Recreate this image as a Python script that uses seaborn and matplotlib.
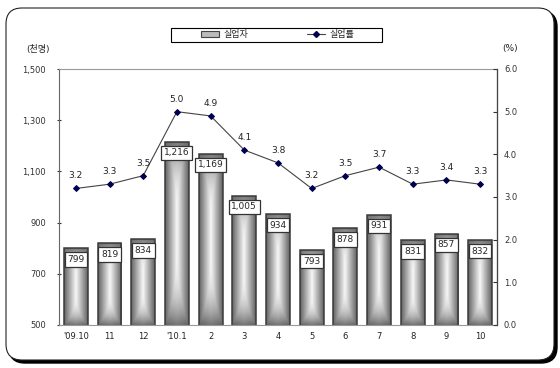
import numpy as np
import pandas as pd
import matplotlib
matplotlib.use("Agg")
import matplotlib.pyplot as plt
import seaborn as sns
from matplotlib.patches import FancyBboxPatch, Patch, Rectangle
from matplotlib.lines import Line2D

months = ["'09.10", "11", "12", "'10.1", "2", "3", "4", "5", "6", "7", "8", "9", "10"]
unemployed = [799, 819, 834, 1216, 1169, 1005, 934, 793, 878, 931, 831, 857, 832]
rate = [3.2, 3.3, 3.5, 5.0, 4.9, 4.1, 3.8, 3.2, 3.5, 3.7, 3.3, 3.4, 3.3]

sns.set_style("white")
plt.rcParams['font.family'] = ['DejaVu Sans', 'Noto Sans CJK KR']
plt.rcParams['axes.unicode_minus'] = False

W, H = 560, 368
fig = plt.figure(figsize=(W / 100, H / 100), dpi=100)

# outer rounded frame with shadow, and the legend box
bg = fig.add_axes([0, 0, 1, 1], zorder=-1)
bg.set_xlim(0, W)
bg.set_ylim(H, 0)
bg.axis("off")
bg.add_patch(FancyBboxPatch((9, 11), 548, 352, boxstyle="round,pad=0,rounding_size=16",
                            facecolor="black", edgecolor="black", lw=1))
bg.add_patch(FancyBboxPatch((6, 8), 548, 352, boxstyle="round,pad=0,rounding_size=16",
                            facecolor="white", edgecolor="#222222", lw=0.8))
bg.add_patch(Rectangle((170.5, 28), 211.5, 14, facecolor="white", edgecolor="black", lw=0.8))

df = pd.DataFrame({"month": months, "unemployed": unemployed, "rate": rate})

ax = fig.add_axes([59 / W, 1 - 325 / H, (497 - 59) / W, (325 - 69) / H])
sns.barplot(data=df, x="month", y="unemployed", ax=ax, width=0.71, color="#999999",
            edgecolor="#3a3a3a", linewidth=1.1, saturation=1)
ax.set_ylim(500, 1500)
ax.set_xlim(-0.5, 12.5)

# gradient fill for each bar: light streak in the middle, darker towards all edges
u = np.linspace(-1, 1, 40)
v = np.linspace(-1, 1, 160)
U, V = np.meshgrid(u, v)
grad = 0.97 - 0.5 * np.maximum(np.abs(U), np.abs(V) ** 3) - 0.08 * np.abs(U)
for p, val in zip(ax.patches, unemployed):
    x0, w = p.get_x(), p.get_width()
    im = ax.imshow(grad, cmap="gray", vmin=0, vmax=1, extent=[x0, x0 + w, 500, val],
                   aspect="auto", zorder=1.5, interpolation="bilinear")
    im.set_clip_path(p)
    p.set_facecolor("none")
    p.set_zorder(2)
ax.set_ylim(500, 1500)
ax.set_xlim(-0.5, 12.5)

for i, val in enumerate(unemployed):
    ax.annotate(f"{val:,}", (i, val), xytext=(0, -8), textcoords="offset points",
                ha="center", va="center", fontsize=6.5, zorder=3,
                bbox=dict(boxstyle="square,pad=0.3", fc="white", ec="#333333", lw=0.9))

ax.set_yticks(range(500, 1501, 200))
ax.set_yticklabels([f"{t:,}" for t in range(500, 1501, 200)])
ax.set_xlabel("")
ax.set_ylabel("")
ax.tick_params(axis="y", direction="inout", length=3, pad=8, labelsize=6, colors="#333333")
ax.tick_params(axis="x", length=0, pad=5, labelsize=6, colors="#222222")
for s in ["top", "right", "bottom"]:
    ax.spines[s].set_color("#999999")
    ax.spines[s].set_linewidth(0.8)
ax.spines["left"].set_color("#666666")
ax.spines["left"].set_linewidth(0.8)

ax2 = ax.twinx()
sns.lineplot(x=np.arange(len(rate)), y=rate, ax=ax2, color="#444444", linewidth=0.8,
             marker="D", markersize=3, markerfacecolor="#000050", markeredgecolor="#000050")
ax2.set_ylim(0, 6)
ax2.set_yticks(np.arange(0, 6.1, 1.0))
ax2.set_yticklabels([f"{t:.1f}" for t in np.arange(0, 6.1, 1.0)])
ax2.set_ylabel("")
ax2.tick_params(axis="y", direction="in", length=3, pad=5, labelsize=6, colors="#333333")
ax2.spines["right"].set_color("#444444")
ax2.spines["right"].set_linewidth(0.9)
for s in ["top", "left", "bottom"]:
    ax2.spines[s].set_visible(False)
ax.set_xlim(-0.5, 12.5)

for i, r in enumerate(rate):
    ax2.annotate(f"{r:.1f}", (i, r), xytext=(0, 9), textcoords="offset points",
                 ha="center", va="center", fontsize=6.5, color="#222222")

fig.text(38 / W, 1 - 49 / H, "(천명)", ha="center", va="center", fontsize=6.5, color="#222222")
fig.text(510 / W, 1 - 49 / H, "(%)", ha="center", va="center", fontsize=6.5, color="#222222")

handles = [Patch(facecolor="#bbbbbb", edgecolor="#444444", lw=0.8),
           Line2D([], [], color="#444444", lw=0.8, marker="D", markersize=3,
                  markerfacecolor="#000050", markeredgecolor="#000050")]
leg = fig.legend(handles, ["실업자", "실업률"], loc="center", ncol=2,
                 bbox_to_anchor=(278 / W, 1 - 35 / H), fontsize=6.5, frameon=False,
                 borderpad=0, columnspacing=6.5, handlelength=2.0, handletextpad=0.5,
                 handleheight=0.6)

fig.savefig("out.png", dpi=100)
